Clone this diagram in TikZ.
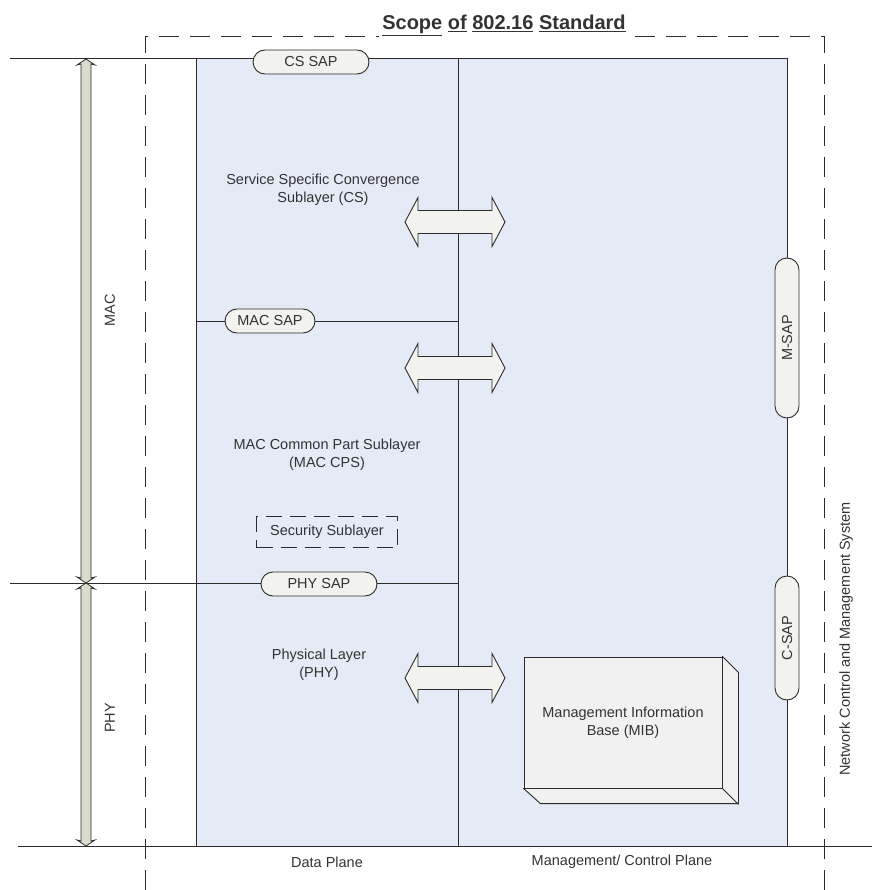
\documentclass[tikz,border=0pt]{standalone}
\usepackage{fontspec}
\setmainfont{Liberation Sans}
\usetikzlibrary{shapes.misc}
\definecolor{bluebg}{HTML}{E5EBF6}
\definecolor{sapfill}{HTML}{F2F2EE}
\definecolor{boxfill}{HTML}{F1F1F1}
\definecolor{barfill}{HTML}{D9DCCB}
\definecolor{ink}{HTML}{333333}
\definecolor{edge}{HTML}{2B2B2B}
\begin{document}
\begin{tikzpicture}[x=1pt,y=-1pt,
  every node/.style={text=ink, font=\fontsize{14.5}{18}\selectfont},
  lbl/.style={align=center, inner sep=0pt},
  sap/.style={draw=edge, fill=sapfill, rounded rectangle, line width=0.9pt, minimum height=24pt, inner sep=0pt},
  ln/.style={draw=edge, line width=0.9pt},
  dsh/.style={draw=edge, line width=0.9pt, dash pattern=on 20pt off 11pt},
  secdash/.style={draw=edge, line width=0.9pt, dash pattern=on 16pt off 8pt},
  blockarrow/.style={draw=edge, fill=sapfill, line width=0.9pt},
  rulerbar/.style={draw=edge, fill=barfill, line width=0.8pt},
  dblarrow/.pic={\path[blockarrow] (-50,0) -- (-37,-24.5) -- (-37,-11.5) -- (37,-11.5) -- (37,-24.5) -- (50,0) -- (37,24.5) -- (37,11.5) -- (-37,11.5) -- (-37,24.5) -- cycle;}
]
\useasboundingbox (0,0) rectangle (872,890);
% blue region
\fill[bluebg] (196,58) rectangle (787,846);
% structure lines
\draw[ln] (196,58) -- (196,846);
\draw[ln] (458,58) -- (458,846);
\draw[ln] (787,58) -- (787,846);
\draw[ln] (10,58) -- (787,58);
\draw[ln] (196,321) -- (458,321);
\draw[ln] (10,583) -- (458,583);
\draw[ln] (18,846) -- (872,846);
% dashed scope frame
\node[font=\fontsize{20}{24}\selectfont\bfseries, anchor=base, inner xsep=3pt, inner ysep=0pt] (title) at (504,30) {\underline{Scope} \underline{of} \underline{802.16} \underline{Standard}};
\draw[dsh] (145,890) -- (145,36) -- (title.west |- 0,36);
\draw[dsh] (824,890) -- (824,36) -- (title.east |- 0,36);
% SAPs
\node[sap, minimum width=116pt] (cssap) at (311,62) {CS SAP};
\node[sap, minimum width=90pt] (macsap) at (270,321) {MAC SAP};
\node[sap, minimum width=116pt] (physap) at (319,584) {PHY SAP};
\node[sap, rotate=90, minimum width=160pt] (msap) at (787,338) {M-SAP};
\node[sap, rotate=90, minimum width=124pt] (csap) at (787,638) {C-SAP};
% block arrows
\pic at (455,222) {dblarrow};
\pic at (455,368) {dblarrow};
\pic at (455,678) {dblarrow};
% texts
\node[lbl] (cs) at (323,190) {Service Specific Convergence\\Sublayer (CS)};
\node[lbl] (cps) at (327,455) {MAC Common Part Sublayer\\(MAC CPS)};
\node[secdash, minimum width=141pt, minimum height=31pt, inner sep=0pt] (sec) at (327,532) {Security Sublayer};
\node[lbl] (phy) at (319,665) {Physical Layer\\(PHY)};
\node[lbl] (dp) at (327,862) {Data Plane};
\node[lbl] (mcp) at (622,862) {Management/ Control Plane};
\node[lbl, rotate=90] (maclbl) at (110,310) {MAC};
\node[lbl, rotate=90] (phylbl) at (110,718) {PHY};
\node[lbl, rotate=90] (ncms) at (846,639) {Network Control and Management System};
% MIB
\node[draw=edge, fill=boxfill, line width=0.9pt, minimum width=198pt, minimum height=131pt, align=center, inner sep=0pt] (mib) at (623,722.5) {Management Information\\Base (MIB)};
\draw[ln, fill=boxfill, line join=round] (mib.north east) -- ++(16,16) -- ++(0,131) -- ++(-198,0) -- (mib.south west) -- (mib.south east) -- cycle;
\draw[ln] (mib.south east) -- ++(16,16);
% left rulers
\path[rulerbar] (86,59) -- (95,65) -- (91,64) -- (91,578) -- (95,577) -- (86,583) -- (77,577) -- (81,578) -- (81,64) -- (77,65) -- cycle;
\path[rulerbar] (86,583) -- (95,589) -- (91,588) -- (91,841) -- (95,840) -- (86,846) -- (77,840) -- (81,841) -- (81,588) -- (77,589) -- cycle;
\end{tikzpicture}
\end{document}
